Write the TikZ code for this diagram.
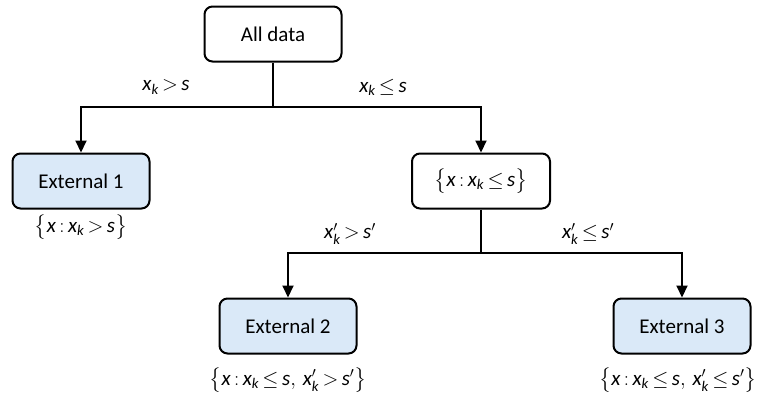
\documentclass[tikz,border=0pt]{standalone}
\usepackage{amsmath}
\usepackage{fontspec}
\setmainfont{Carlito}
\usetikzlibrary{arrows.meta,positioning}
\definecolor{leafblue}{RGB}{218,233,248}
\newcommand{\iv}[1]{\textit{#1}}

\begin{document}
\thickmuskip=3mu plus 2mu\relax
\begin{tikzpicture}[x=1pt, y=-1pt, every node/.style={font=\fontsize{21}{25}\selectfont},
  box/.style={draw, rectangle, rounded corners=8pt, line width=2pt, minimum width=137pt, minimum height=55pt, fill=white},
  leaf/.style={box, fill=leafblue},
  link/.style={line width=2pt},
  arr/.style={link, -{Triangle[width=11pt,length=12pt]}}]
\useasboundingbox (0,0) rectangle (763,399);
\node[box] (all) at (273,34) {All data};
\node[leaf] (ext1) at (81,181) {External 1};
\node[box, minimum width=138pt] (sub) at (481,181) {$\bigl\{\iv{x}\,{:}\,\iv{x}_{\iv{k}}\le \iv{s}\bigr\}$};
\node[leaf] (ext2) at (288,326) {External 2};
\node[leaf] (ext3) at (682,326) {External 3};
\coordinate (split1) at (273,107);
\coordinate (split2) at (481,253);
% first split
\draw[link] (all) -- (split1);
\draw[arr] (split1) -| (ext1.north);
\draw[arr] (split1) -| (sub.north);
\node (cond1) at (166,87) {$\iv{x}_{\iv{k}} > \iv{s}$};
\node (cond2) at (383,87) {$\iv{x}_{\iv{k}} \le \iv{s}$};
% second split
\draw[link] (sub) -- (split2);
\draw[arr] (split2) -| (ext2.north);
\draw[arr] (split2) -| (ext3.north);
\node (cond3) at (350,234) {$\iv{x}'_{\iv{k}} > \iv{s}'$};
\node (cond4) at (588,234) {$\iv{x}'_{\iv{k}} \le \iv{s}'$};
% leaf sets
\node (set1) at (81,227) {$\bigl\{\iv{x}\,{:}\,\iv{x}_{\iv{k}} > \iv{s}\bigr\}$};
\node (set2) at (288,380) {$\bigl\{\iv{x}\,{:}\,\iv{x}_{\iv{k}} \le \iv{s},\, \iv{x}'_{\iv{k}} > \iv{s}'\bigr\}$};
\node (set3) at (678,380) {$\bigl\{\iv{x}\,{:}\,\iv{x}_{\iv{k}} \le \iv{s},\, \iv{x}'_{\iv{k}} \le \iv{s}'\bigr\}$};
\end{tikzpicture}
\end{document}
